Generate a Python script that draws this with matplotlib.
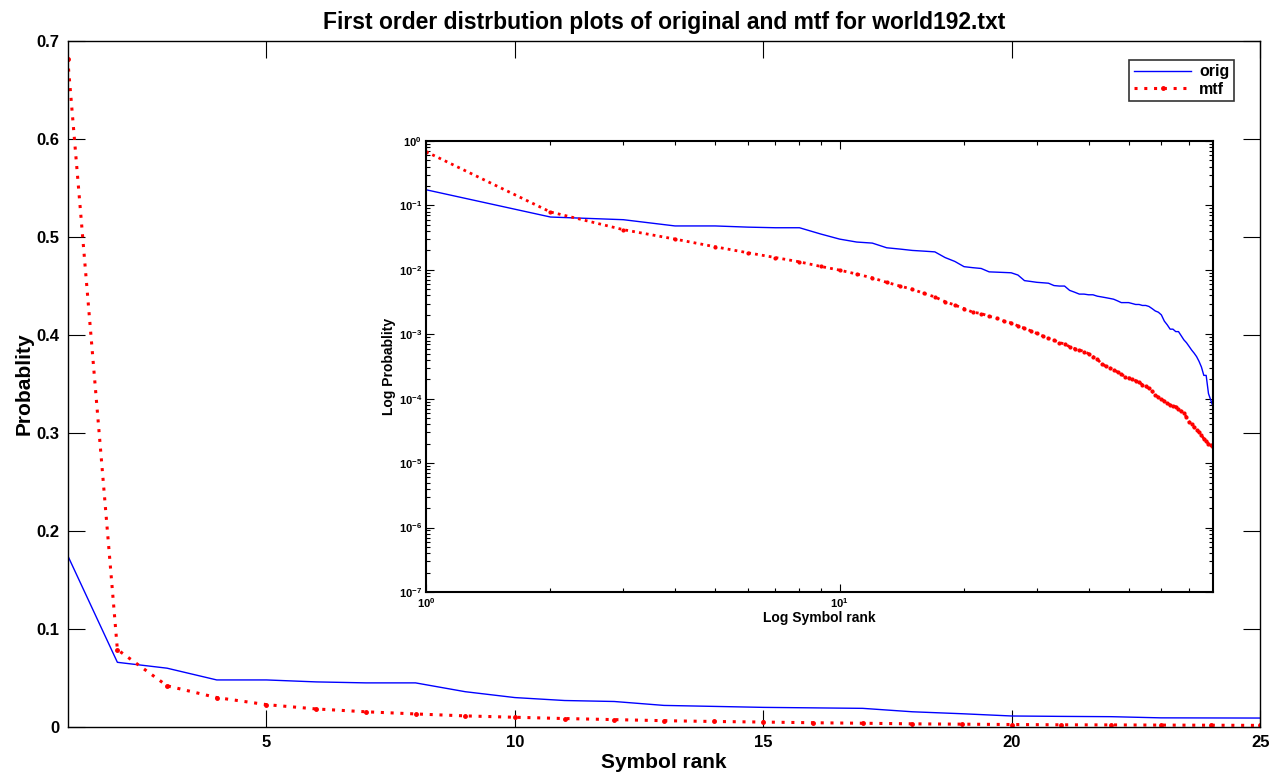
import matplotlib
matplotlib.use("Agg")
import matplotlib.pyplot as plt
import numpy as np
from matplotlib.ticker import FixedLocator, FuncFormatter, NullFormatter

plt.rcParams['font.family'] = ['Liberation Sans', 'DejaVu Sans']
plt.rcParams['font.weight'] = 'bold'
plt.rcParams['mathtext.fontset'] = 'custom'
plt.rcParams['mathtext.rm'] = 'Liberation Sans:bold'
plt.rcParams['mathtext.bf'] = 'Liberation Sans:bold'

# symbol ranks 1..80
rank = np.arange(1, 81)

# probability of each rank, original text
orig = [0.175, 0.066, 0.060, 0.048, 0.048, 0.046, 0.045, 0.045, 0.036, 0.030,
        0.027, 0.026, 0.022, 0.021, 0.020, 0.0195, 0.019, 0.0155, 0.0135, 0.0112,
        0.0108, 0.0105, 0.0093, 0.0092, 0.0091, 0.0090, 0.0083, 0.0068, 0.0066, 0.0064,
        0.0063, 0.0062, 0.0057, 0.0056, 0.0056, 0.0048, 0.0045, 0.0042, 0.0042, 0.0041,
        0.0041, 0.0039, 0.0038, 0.0037, 0.0036, 0.0035, 0.0033, 0.0031, 0.0031, 0.0031,
        0.0030, 0.0029, 0.0029, 0.0028, 0.0028, 0.0027, 0.0025, 0.0023, 0.0022, 0.0020,
        0.0016, 0.0014, 0.0012, 0.0012, 0.0011, 0.0011, 0.00095, 0.00082, 0.00074, 0.00065,
        0.00057, 0.00051, 0.00045, 0.00038, 0.00031, 0.00023, 0.00023, 0.00012, 0.000095, 0.000075]

# probability of each rank after move-to-front
mtf = [0.682, 0.079, 0.042, 0.030, 0.0228, 0.0184, 0.0155, 0.0133, 0.0113, 0.0099,
       0.0086, 0.0075, 0.0064, 0.0056, 0.0050, 0.0043, 0.0038, 0.0032, 0.00284, 0.0025,
       0.0022, 0.0021, 0.0019, 0.00177, 0.0016, 0.0015, 0.00135, 0.00124, 0.00113, 0.00103,
       0.00094, 0.00086, 0.00081, 0.00074, 0.00071, 0.00064, 0.00060, 0.00057, 0.00054, 0.00050,
       0.00045, 0.00041, 0.00035, 0.00032, 0.00030, 0.00028, 0.00026, 0.00024, 0.00022, 0.00021,
       0.000205, 0.00019, 0.00018, 0.000165, 0.000155, 0.000145, 0.00013, 0.000115, 0.000105, 0.000098,
       0.000092, 0.000085, 0.000080, 0.000077, 0.000075, 0.000070, 0.000064, 0.000059, 0.000052, 0.000044,
       0.000040, 0.000036, 0.000033, 0.000030, 0.000027, 0.000024, 0.000022, 0.000020, 0.0000188, 0.0000177]

fig = plt.figure(figsize=(12.82, 7.78), dpi=100)

# main axes
ax = fig.add_axes([0.0528, 0.0656, 0.9302, 0.8814])
ax.plot(rank, orig, color='#0000ff', lw=1.0, label='orig')
ax.plot(rank, mtf, color='red', ls=(0, (1, 2.2)), lw=2.2, marker='.', ms=5, label='mtf')
ax.set_xlim(1, 25)
ax.set_ylim(0, 0.7)
ax.set_xticks([5, 10, 15, 20, 25])
ax.set_yticks([0, 0.1, 0.2, 0.3, 0.4, 0.5, 0.6, 0.7])
ax.set_yticklabels(['0', '0.1', '0.2', '0.3', '0.4', '0.5', '0.6', '0.7'])
ax.tick_params(direction='in', length=12, width=0.8, top=True, right=True, labelsize=12, pad=6)
for s in ax.spines.values():
    s.set_linewidth(1.0)
ax.set_xlabel('Symbol rank', fontsize=15, fontweight='bold', labelpad=2)
ax.set_ylabel('Probablity', fontsize=15, fontweight='bold', labelpad=2)
ax.set_title('First order distrbution plots of original and mtf for world192.txt',
             fontsize=16.5, fontweight='bold', pad=9)
leg = ax.legend(loc='upper right', fontsize=11.5, frameon=True, fancybox=False,
                handlelength=3.6, borderpad=0.3, labelspacing=0.15, handletextpad=0.5,
                bbox_to_anchor=(0.985, 0.985))
leg.get_frame().set_edgecolor('black')
leg.get_frame().set_linewidth(1.2)
for t in leg.get_texts():
    t.set_fontweight('bold')

# inset log-log axes
ins = fig.add_axes([0.3323, 0.2391, 0.6139, 0.5797])
ins.loglog(rank, orig, color='#0000ff', lw=1.0)
ins.loglog(rank, mtf, color='red', ls=(0, (1, 1.5)), lw=2.0, marker='.', ms=4)
ins.set_xlim(1, 80)
ins.set_ylim(1e-7, 1)
ins.xaxis.set_major_locator(FixedLocator([1, 10]))
ins.xaxis.set_minor_locator(FixedLocator([2, 3, 4, 5, 6, 7, 8, 9, 20, 30, 40, 50, 60, 70]))
ins.xaxis.set_minor_formatter(NullFormatter())
ins.yaxis.set_major_locator(FixedLocator([10.0 ** k for k in range(-7, 1)]))
ins.yaxis.set_minor_locator(FixedLocator([m * 10.0 ** k for k in range(-7, 0) for m in range(2, 10)]))
ins.yaxis.set_minor_formatter(NullFormatter())
fmt = FuncFormatter(lambda v, p: r'$\mathbf{10^{%d}}$' % int(round(np.log10(v))))
ins.xaxis.set_major_formatter(fmt)
ins.yaxis.set_major_formatter(fmt)
ins.tick_params(which='major', direction='in', length=6, width=0.8, top=True, right=True, labelsize=8, pad=3)
ins.tick_params(which='minor', direction='in', length=3, width=0.8, top=True, right=True)
for s in ins.spines.values():
    s.set_linewidth(1.5)
ins.set_xlabel('Log Symbol rank', fontsize=10, fontweight='bold', labelpad=1)
ins.set_ylabel('Log Probablity', fontsize=10, fontweight='bold', labelpad=2)

fig.savefig('out.png', dpi=100)
